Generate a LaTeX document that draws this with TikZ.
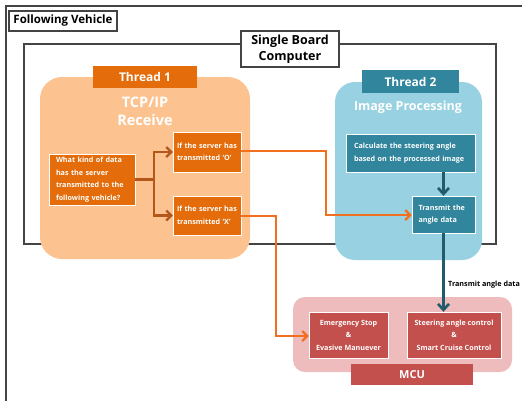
\documentclass[tikz,border=0pt]{standalone}
\usepackage{fontspec}
\setmainfont{Open Sans}
\usetikzlibrary{arrows.meta}
\definecolor{tOneBg}{HTML}{FCC391}
\definecolor{tOne}{HTML}{E46C0A}
\definecolor{branch}{HTML}{B5561A}
\definecolor{longor}{HTML}{F07020}
\definecolor{tTwoBg}{HTML}{98D2E2}
\definecolor{tTwo}{HTML}{31859C}
\definecolor{tealarr}{HTML}{215C6B}
\definecolor{mcuBg}{HTML}{EEBCBC}
\definecolor{mcu}{HTML}{C4504D}
\definecolor{frame}{HTML}{444444}
\tikzset{
  x=1pt, y=-1pt,
  boxtxt/.style={font=\bfseries\fontsize{7.2}{12.5}\selectfont, text=white, inner sep=0pt},
  obox/.style={boxtxt, fill=tOne, draw=white, line width=0.4pt},
  tbox/.style={boxtxt, fill=tTwo, draw=white, line width=0.4pt},
  mbox/.style={boxtxt, fill=mcu, draw=white, line width=0.4pt, align=center},
  lbl/.style={draw=frame, fill=white, line width=1.3pt, inner sep=0pt, align=center, font=\bfseries},
  brarr/.style={draw=branch, line width=2.2pt, -{Straight Barb[length=5pt,width=10pt]}},
  lgarr/.style={draw=longor, line width=2.2pt, -{Straight Barb[length=5pt,width=10pt]}},
  tlarr/.style={draw=tealarr, line width=2.6pt, -{Straight Barb[length=6pt,width=11pt]}},
}
\begin{document}
\begin{tikzpicture}
\useasboundingbox (0,0) rectangle (522,400);
\clip (0,0) rectangle (522,400);
% outer frame (open on right and bottom)
\draw[frame, line width=2pt] (5.5,410) -- (5.5,6) -- (530,6);
\node[lbl, minimum width=108pt, minimum height=20pt, font=\bfseries\fontsize{11.5}{13}\selectfont] (fv) at (63,21) {Following Vehicle};
% SBC frame
\draw[frame, line width=2pt] (24,44) rectangle (496,244);
\node[lbl, minimum width=98pt, minimum height=36pt, font=\bfseries\fontsize{12.5}{16}\selectfont] (sbc) at (290,49) {Single Board\\Computer};
% Thread 1
\fill[tOneBg, rounded corners=22pt] (40,77) rectangle (250,259);
\node[fill=tOne, minimum width=104pt, minimum height=22pt, inner sep=0pt, text=white, font=\bfseries\fontsize{12}{14}\selectfont] (t1) at (145,76.5) {Thread 1};
\node[text=white, font=\bfseries\fontsize{14.5}{18}\selectfont, align=center, inner sep=0pt] (tcp) at (145,111.5) {TCP/IP\\Receive};
% Thread 2
\fill[tTwoBg, rounded corners=20pt] (335,82) rectangle (482,260);
\node[fill=tTwo, minimum width=97pt, minimum height=23pt, inner sep=0pt, text=white, font=\bfseries\fontsize{12}{14}\selectfont] (t2) at (410.5,81.5) {Thread 2};
\node[text=white, font=\bfseries\fontsize{12.5}{14}\selectfont, inner sep=0pt] (ip) at (408,107) {Image Processing};
% MCU
\fill[mcuBg, rounded corners=12pt] (293,297) rectangle (512,372);
% thread 1 boxes
\node[obox, minimum width=86pt, minimum height=51pt, align=left, text width=72pt] (q) at (92,179.5) {What kind of data\\has the server\\transmitted to the\\following vehicle?};
\node[obox, minimum width=68pt, minimum height=40pt, align=left, text width=60pt] (o) at (207,152) {If the server has\\transmitted `O'};
\node[obox, minimum width=68pt, minimum height=39pt, align=left, text width=60pt] (xx) at (207,215.5) {If the server has\\transmitted `X'};
% thread 2 boxes
\node[tbox, minimum width=129pt, minimum height=38pt, align=left, text width=113pt] (calc) at (410.5,153) {Calculate the steering angle\\based on the processed image};
\node[tbox, minimum width=63pt, minimum height=37pt, align=left, text width=50pt] (tr) at (443.5,214.5) {Transmit the\\angle data};
% MCU boxes
\node[mbox, minimum width=79pt, minimum height=46pt] (em) at (348.5,335) {Emergency Stop\\\&\\Evasive Manuever};
\node[mbox, minimum width=94pt, minimum height=46pt] (st) at (454,335) {Steering angle control\\\&\\Smart Cruise Control};
\node[fill=mcu, minimum width=122pt, minimum height=21pt, inner sep=0pt, text=white, font=\bfseries\fontsize{11}{13}\selectfont] (mcu) at (412,374.5) {MCU};
% connectors
\coordinate (br) at (154,179.5);
\draw[branch, line width=2.2pt] (q.east) -- (br);
\draw[brarr] (br) |- (o.west);
\draw[brarr] (br) |- (xx.west);
\draw[lgarr] (o.east |- 0,151) -| (326,215) -- (tr.west |- 0,215);
\draw[lgarr] (xx.east |- 0,216) -| (276,336) -- (em.west |- 0,336);
\draw[tlarr] (calc.south -| 443.5,0) -- (tr.north);
\draw[tlarr] (tr.south) -- (st.north -| tr.south);
\node[anchor=west, inner sep=0pt, font=\bfseries\fontsize{7.2}{8}\selectfont] (tad) at (448,285) {Transmit angle data};
\end{tikzpicture}
\end{document}
